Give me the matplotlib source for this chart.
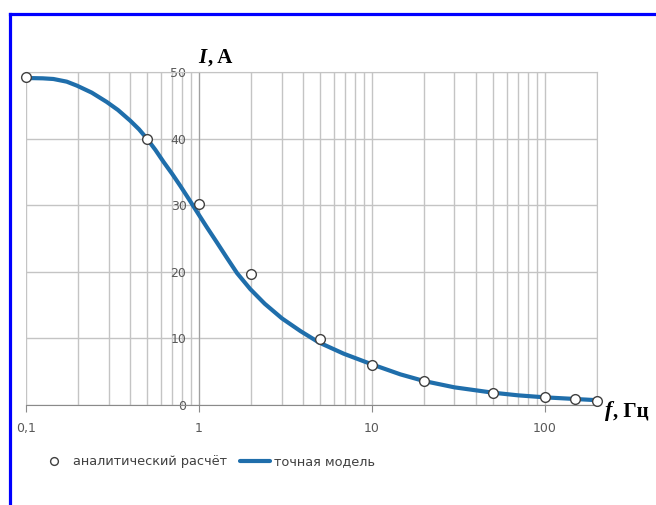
import matplotlib.pyplot as plt
from matplotlib.lines import Line2D
from matplotlib.ticker import FixedLocator, LogLocator, NullFormatter

# analytic points
f_pts = [0.1, 0.5, 1, 2, 5, 10, 20, 50, 100, 150, 200]
i_pts = [49.2, 40.0, 30.2, 19.7, 9.9, 6.0, 3.6, 1.85, 1.25, 0.9, 0.65]

# exact model curve
f_line = [0.1, 0.125, 0.144, 0.172, 0.197, 0.24, 0.293, 0.34, 0.40, 0.45, 0.5, 0.56,
          0.624, 0.70, 0.78, 0.87, 0.974, 1.11, 1.27, 1.45, 1.66, 1.98, 2.4, 3.02,
          3.86, 4.93, 6.87, 10, 14.6, 20, 30, 50, 70, 100, 150, 200]
i_line = [49.1, 49.05, 48.95, 48.55, 47.95, 46.9, 45.5, 44.3, 42.7, 41.4, 40.0, 38.3,
          36.5, 34.7, 32.9, 31.0, 29.0, 26.7, 24.4, 22.1, 19.8, 17.4, 15.2, 13.0,
          11.1, 9.4, 7.7, 6.1, 4.6, 3.6, 2.65, 1.85, 1.45, 1.15, 0.9, 0.72]

xticks = [0.1, 1, 10, 100]
xlabels = ['0,1', '1', '10', '100']
yticks = [0, 10, 20, 30, 40, 50]

fig = plt.figure(figsize=(6.56, 5.05), dpi=100)
ax = fig.add_axes([26/656, 1-405/505, (597-26)/656, (405-72)/505])

grid_c = '#c4c4c4'
ax.set_xscale('log')
ax.set_xlim(0.1, 200)
ax.set_ylim(0, 50)
ax.xaxis.set_major_locator(FixedLocator(xticks))
ax.xaxis.set_minor_locator(LogLocator(base=10, subs=range(2, 10)))
ax.xaxis.set_minor_formatter(NullFormatter())
ax.set_xticks(xticks, xlabels)
ax.set_yticks(yticks)
ax.grid(True, which='both', axis='x', color=grid_c, lw=1)
ax.grid(True, which='major', axis='y', color=grid_c, lw=1)
ax.set_axisbelow(True)

ax.spines['left'].set_position(('data', 1))
ax.spines['left'].set_color('#a0a0a0')
ax.spines['bottom'].set_color('#8a8a8a')
ax.spines['top'].set_color(grid_c)
ax.spines['right'].set_color(grid_c)
ax.tick_params(axis='y', length=0, pad=9, labelsize=9, labelcolor='#595959')
ax.tick_params(axis='x', which='major', length=5, color='#8a8a8a', pad=7,
               labelsize=9, labelcolor='#595959')
ax.tick_params(axis='x', which='minor', length=0)

ax.plot(f_line, i_line, color='#1f6eab', lw=3, solid_capstyle='round',
        solid_joinstyle='round', label='точная модель', zorder=3)
ax.plot(f_pts, i_pts, 'o', ms=7, mfc='white', mec='#404040', mew=1,
        label='аналитический расчёт', zorder=4, clip_on=False)

fig.text(198/656, 1-58/505, 'I', fontsize=15, family='Liberation Serif',
         weight='bold', style='italic', ha='left', va='center')
fig.text(208/656, 1-58/505, ', A', fontsize=15, family='Liberation Serif',
         weight='bold', ha='left', va='center')
fig.text(605/656, 1-411/505, 'f', fontsize=16, family='Liberation Serif',
         weight='bold', style='italic', ha='left', va='center')
fig.text(613/656, 1-411/505, ', Гц', fontsize=15, family='Liberation Serif',
         weight='bold', ha='left', va='center')

h, l = ax.get_legend_handles_labels()
leg = fig.legend(h[::-1], l[::-1], loc='center left', bbox_to_anchor=(28/656, 1-462/505),
                 ncol=2, frameon=False, fontsize=9.3, handlelength=2.3, markerscale=0.8,
                 columnspacing=1.0, handletextpad=0.3, labelcolor='#404040')

# blue frame lines (top and left)
fig.add_artist(Line2D([9.5/656, 1], [1-13.5/505, 1-13.5/505], color='#0000ff', lw=2.3,
                      transform=fig.transFigure))
fig.add_artist(Line2D([9.5/656, 9.5/656], [0, 1-13.5/505], color='#0000ff', lw=2.3,
                      transform=fig.transFigure))

fig.savefig('out.png', dpi=100)
